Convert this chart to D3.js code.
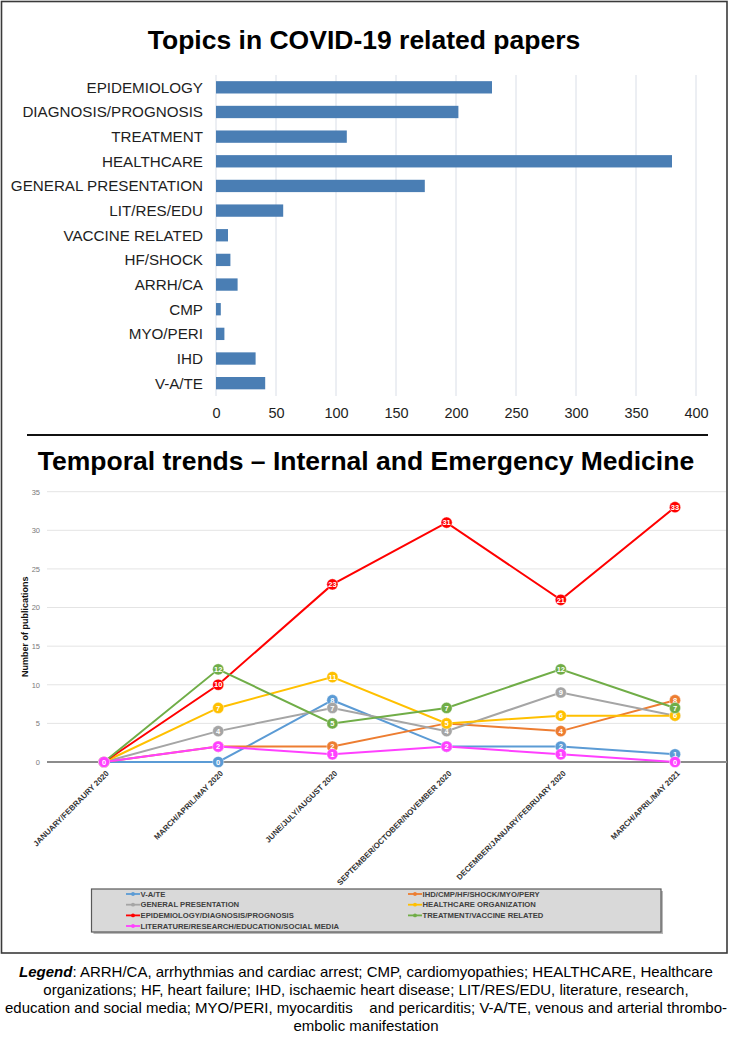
<!DOCTYPE html>
<html>
<head>
<meta charset="utf-8">
<script src="https://cdn.jsdelivr.net/npm/d3@7"></script>
<style>
  html, body { margin: 0; padding: 0; background: #ffffff; }
  svg { display: block; font-family: "Liberation Sans", Arial, sans-serif; }
</style>
</head>
<body>
<svg id="chart" width="732" height="1039"></svg>
<script>
// ---------- Data: top bar chart ----------
const topicTitle = "Topics in COVID-19 related papers";
const topics = ["EPIDEMIOLOGY", "DIAGNOSIS/PROGNOSIS", "TREATMENT", "HEALTHCARE",
  "GENERAL PRESENTATION", "LIT/RES/EDU", "VACCINE RELATED", "HF/SHOCK", "ARRH/CA",
  "CMP", "MYO/PERI", "IHD", "V-A/TE"];
const topicCounts = [230, 202, 109, 380, 174, 56, 10, 12, 18, 4, 7, 33, 41];
const barTicks = [0, 50, 100, 150, 200, 250, 300, 350, 400];

// ---------- Data: temporal trends ----------
const trendTitle = "Temporal trends \u2013 Internal and Emergency Medicine";
const periods = ["JANUARY/FEBRAURY 2020", "MARCH/APRIL/MAY 2020", "JUNE/JULY/AUGUST 2020",
  "SEPTEMBER/OCTOBER/NOVEMBER 2020", "DECEMBER/JANUARY/FEBRUARY 2020", "MARCH/APRIL/MAY 2021"];
const seriesNames = ["V-A/TE", "IHD/CMP/HF/SHOCK/MYO/PERY", "GENERAL PRESENTATION",
  "HEALTHCARE ORGANIZATION", "EPIDEMIOLOGY/DIAGNOSIS/PROGNOSIS", "TREATMENT/VACCINE RELATED",
  "LITERATURE/RESEARCH/EDUCATION/SOCIAL MEDIA"];
const vateValues       = [0, 0, 8, 2, 2, 1];
const ihdValues        = [0, 2, 2, 5, 4, 8];
const generalValues    = [0, 4, 7, 4, 9, 6];
const healthcareValues = [0, 7, 11, 5, 6, 6];
const epiValues        = [0, 10, 23, 31, 21, 33];
const treatmentValues  = [0, 12, 5, 7, 12, 7];
const literatureValues = [0, 2, 1, 2, 1, 0];
const seriesColors = ["#5b9bd5", "#ed7d31", "#a5a5a5", "#ffc000", "#ff0000", "#70ad47", "#ff40ff"];
const yTicks = [0, 5, 10, 15, 20, 25, 30, 35];
const yAxisTitle = "Number of publications";

const captionLines = [
  ": ARRH/CA, arrhythmias and cardiac arrest; CMP, cardiomyopathies; HEALTHCARE, Healthcare",
  "organizations; HF, heart failure; IHD, ischaemic heart disease; LIT/RES/EDU, literature, research,",
  "education and social media; MYO/PERI, myocarditis\u00a0\u00a0\u00a0 and pericarditis; V-A/TE, venous and arterial thrombo-",
  "embolic manifestation"
];

const allSeries = [vateValues, ihdValues, generalValues, healthcareValues, epiValues, treatmentValues, literatureValues]
  .map((vals, i) => ({ name: seriesNames[i], color: seriesColors[i], values: vals }));

const svg = d3.select("#chart");

// Outer frame
svg.append("rect").attr("x", 1.5).attr("y", 1.5).attr("width", 725.5).attr("height", 951.5)
  .attr("fill", "none").attr("stroke", "#3a3a3a").attr("stroke-width", 1.6);

// ---------- Bar chart ----------
svg.append("text").attr("x", 364).attr("y", 48.5).attr("text-anchor", "middle")
  .attr("font-size", 26.5).attr("font-weight", "bold").attr("fill", "#000").text(topicTitle);

const bx = d3.scaleLinear().domain([0, 400]).range([216, 696]);
const by = d3.scaleBand().domain(topics).range([75, 395.5]).paddingInner(0.5).paddingOuter(0.25);

const bg = svg.append("g");
bg.selectAll("line.grid").data(barTicks).join("line").attr("class", "grid")
  .attr("x1", d => bx(d)).attr("x2", d => bx(d)).attr("y1", 75).attr("y2", 396)
  .attr("stroke", "#d9dee7").attr("stroke-width", 1);

bg.selectAll("rect.bar").data(topics).join("rect").attr("class", "bar")
  .attr("x", bx(0)).attr("y", d => by(d)).attr("height", by.bandwidth())
  .attr("width", (d, i) => bx(topicCounts[i]) - bx(0))
  .attr("fill", "#4a7eb4");

bg.selectAll("text.cat").data(topics).join("text").attr("class", "cat")
  .attr("x", 203).attr("y", d => by(d) + by.bandwidth() / 2).attr("dy", "0.36em")
  .attr("text-anchor", "end").attr("font-size", 15.2).attr("fill", "#1e1e1e").text(d => d);

const bAxis = d3.axisBottom(bx).tickValues(barTicks).tickSize(0).tickPadding(0);
const bAxisG = bg.append("g").attr("transform", "translate(0,408)").call(bAxis);
bAxisG.select(".domain").remove();
bAxisG.selectAll("text").attr("font-size", 14.5).attr("fill", "#1e1e1e")
  .attr("font-family", "Liberation Sans, Arial, sans-serif");

// Divider
svg.append("line").attr("x1", 27).attr("x2", 708).attr("y1", 435).attr("y2", 435)
  .attr("stroke", "#111").attr("stroke-width", 2);

// ---------- Line chart ----------
svg.append("text").attr("x", 366).attr("y", 470).attr("text-anchor", "middle")
  .attr("font-size", 26.5).attr("font-weight", "bold").attr("fill", "#000").text(trendTitle);

const lx = d3.scalePoint().domain(periods).range([104, 675]);
const ly = d3.scaleLinear().domain([0, 35]).range([762, 491.7]);

const lg = svg.append("g");
lg.selectAll("line.hgrid").data(yTicks.filter(d => d > 0)).join("line").attr("class", "hgrid")
  .attr("x1", 47).attr("x2", 726).attr("y1", d => ly(d)).attr("y2", d => ly(d))
  .attr("stroke", "#e4e4e4").attr("stroke-width", 1);

const yAxis = d3.axisLeft(ly).tickValues(yTicks).tickSize(0).tickPadding(0);
const yAxisG = lg.append("g").attr("transform", "translate(40,0)").call(yAxis);
yAxisG.select(".domain").remove();
yAxisG.selectAll("text").attr("font-size", 7.5).attr("fill", "#7a7a7a")
  .attr("font-family", "Liberation Sans, Arial, sans-serif");

lg.append("line").attr("x1", 47).attr("x2", 727).attr("y1", ly(0)).attr("y2", ly(0))
  .attr("stroke", "#8c8c8c").attr("stroke-width", 2);

lg.append("text").attr("transform", `translate(28,${(ly(0) + ly(35)) / 2}) rotate(-90)`)
  .attr("text-anchor", "middle").attr("font-size", 9).attr("font-weight", "bold")
  .attr("fill", "#111").text(yAxisTitle);

// x labels
lg.selectAll("text.xl").data(periods).join("text").attr("class", "xl")
  .attr("transform", d => `translate(${lx(d) + 1.5},770) rotate(-45)`)
  .attr("dy", "0.71em").attr("text-anchor", "end")
  .attr("font-size", 7.9).attr("font-weight", "bold").attr("fill", "#333")
  .text(d => d);

const lineGen = d3.line().x((d, i) => lx(periods[i])).y(d => ly(d));

allSeries.forEach(s => {
  const sg = lg.append("g");
  sg.append("path").datum(s.values).attr("d", lineGen)
    .attr("fill", "none").attr("stroke", s.color).attr("stroke-width", 2);
  const m = sg.selectAll("g.m").data(s.values).join("g").attr("class", "m")
    .attr("transform", (d, i) => `translate(${lx(periods[i])},${ly(d)})`);
  m.append("circle").attr("r", 5.6).attr("fill", s.color)
    .attr("stroke", "#ffffff").attr("stroke-opacity", 0.5).attr("stroke-width", 0.8);
  m.append("text").attr("text-anchor", "middle").attr("dy", "0.36em")
    .attr("font-size", 7.5).attr("font-weight", "bold").attr("fill", "#fff").text(d => d);
});

// legend box
const leg = svg.append("g");
leg.append("rect").attr("x", 93.5).attr("y", 891).attr("width", 569.5).attr("height", 43)
  .attr("fill", "#8a8a8a").attr("opacity", 0.6);
leg.append("rect").attr("x", 91.5).attr("y", 889).attr("width", 569.5).attr("height", 43)
  .attr("fill", "#d9d9d9").attr("stroke", "#595959").attr("stroke-width", 1.2);

const legCols = [126, 408];
const legRows = [894, 904.7, 915.4, 926];
allSeries.forEach((s, i) => {
  const cx = legCols[i % 2], cy = legRows[Math.floor(i / 2)];
  const it = leg.append("g").attr("transform", `translate(${cx},${cy})`);
  it.append("line").attr("x1", 0).attr("x2", 14).attr("y1", 0).attr("y2", 0)
    .attr("stroke", s.color).attr("stroke-width", 1.8);
  it.append("circle").attr("cx", 7).attr("cy", 0).attr("r", 1.9).attr("fill", s.color);
  it.append("text").attr("x", 14.5).attr("dy", "0.36em").attr("font-size", 7.7)
    .attr("font-weight", "bold").attr("fill", "#404040").text(s.name);
});

// ---------- Caption ----------
const cap = svg.append("g").attr("font-size", 15).attr("fill", "#000");
const capYs = [977, 995, 1013, 1031];
const t0 = cap.append("text").attr("x", 366).attr("y", capYs[0]).attr("text-anchor", "middle");
t0.append("tspan").attr("font-weight", "bold").attr("font-style", "italic").text("Legend");
t0.append("tspan").text(captionLines[0]);
captionLines.slice(1).forEach((l, i) => {
  cap.append("text").attr("x", 366).attr("y", capYs[i + 1]).attr("text-anchor", "middle").text(l);
});
</script>
</body>
</html>
